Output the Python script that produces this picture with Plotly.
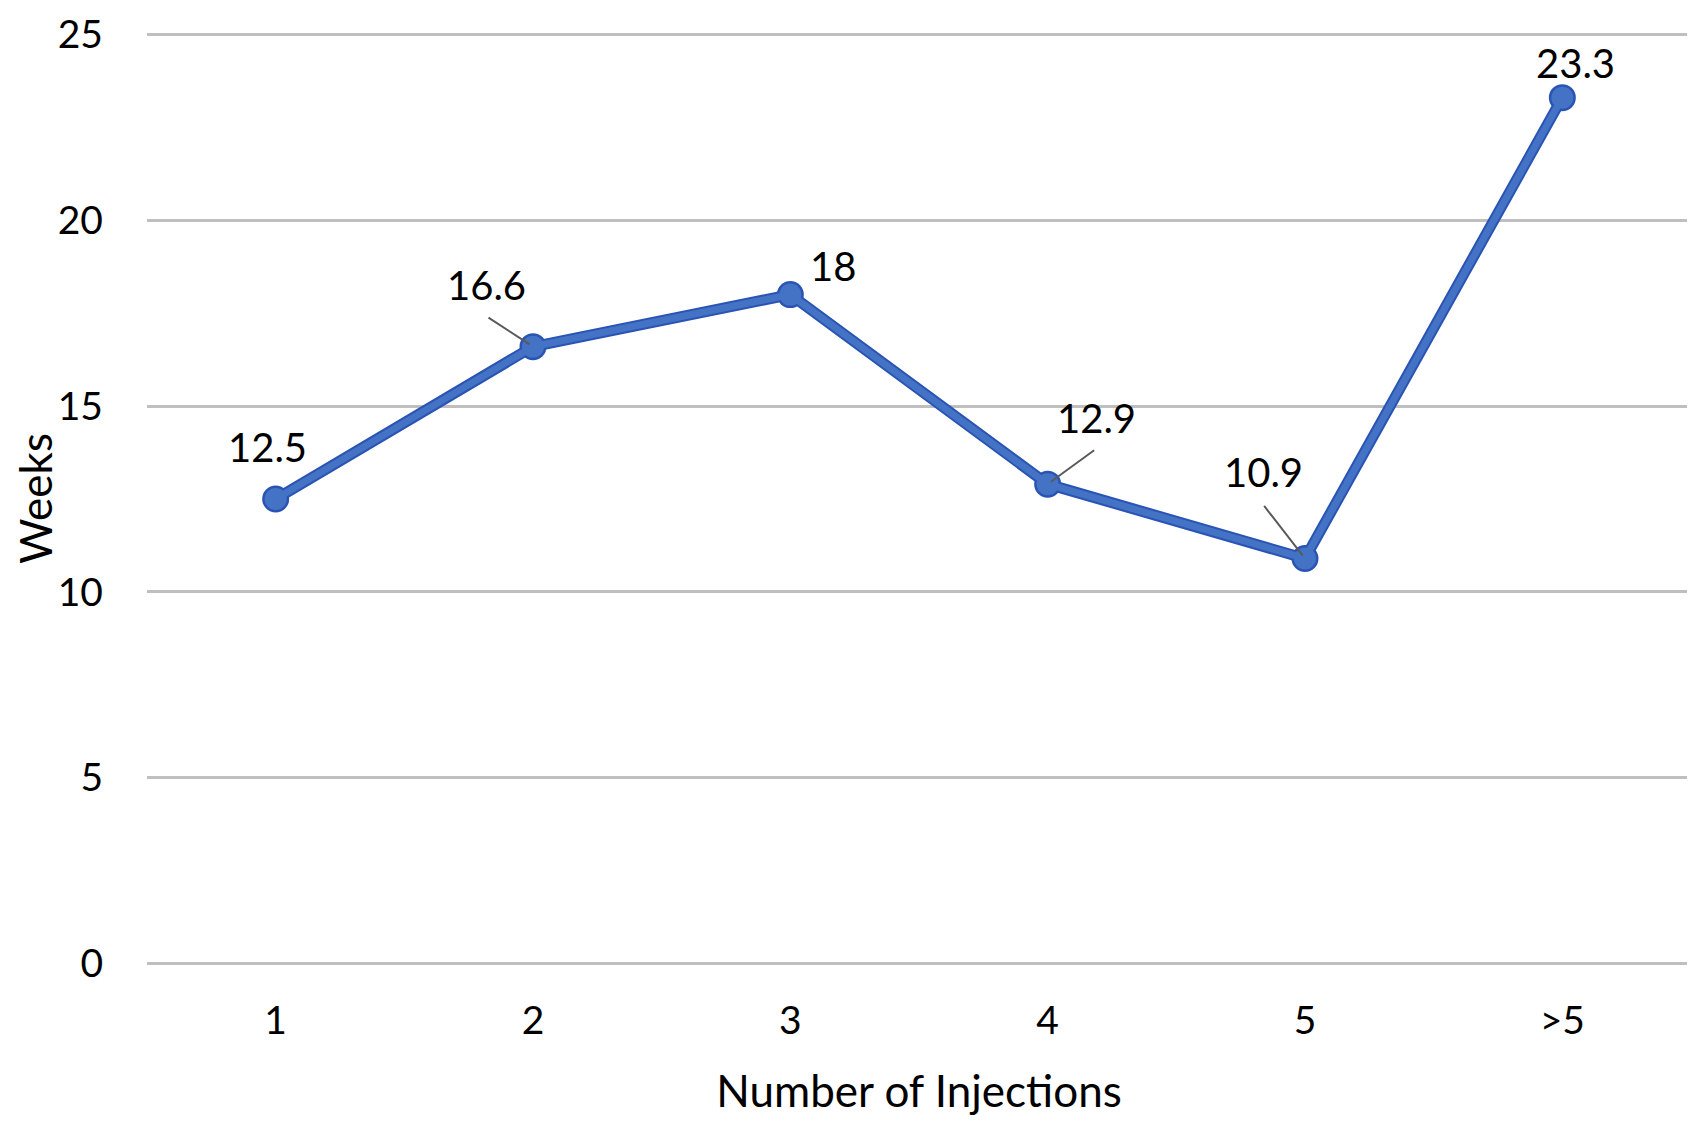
import plotly.graph_objs as go

# Data
injections = ['1', '2', '3', '4', '5', '>5']
weeks = [12.5, 16.6, 18, 12.9, 10.9, 23.3]
label_text = ['12.5', '16.6', '18', '12.9', '10.9', '23.3']
y_ticks = [0, 5, 10, 15, 20, 25]

# label offsets from the point (px)
label_dx = [-8, -47, 43, 49, -42, 13]
label_dy = [-52, -62, -29, -66, -86, -35]
# leader line tails (px), None when there is no leader
leader_dx = [None, -46, None, 48, -42, None]
leader_dy = [None, -30, None, -35, -54, None]

FONT = 'Lato, "Open Sans", sans-serif'

fig = go.Figure()

# dark outline under the line, then lighter line with markers on top
fig.add_trace(go.Scatter(x=injections, y=weeks, mode='lines+markers',
                         line=dict(color='#2A54B4', width=11),
                         marker=dict(size=27, color='#2A54B4'),
                         hoverinfo='skip', showlegend=False))
fig.add_trace(go.Scatter(x=injections, y=weeks, mode='lines+markers',
                         line=dict(color='#4472C4', width=7),
                         marker=dict(size=22, color='#4472C4'),
                         showlegend=False))

# annotations placed by category index
for i, (y, t, dx, dy) in enumerate(zip(weeks, label_text, label_dx, label_dy)):
    fig.add_annotation(x=i, y=y, text=t, showarrow=False,
                       xshift=dx, yshift=-dy,
                       font=dict(size=40, color='#000000', family=FONT))
    if leader_dx[i] is not None:
        fig.add_annotation(x=i, y=y, text='', showarrow=True, arrowhead=0,
                           arrowwidth=2, arrowcolor='#5A5A5A',
                           ax=leader_dx[i], ay=leader_dy[i], standoff=4)

# y axis title
fig.add_annotation(xref='paper', yref='paper', x=0, y=0.5, xshift=-112,
                   text='Weeks', textangle=-90, showarrow=False,
                   xanchor='center', yanchor='middle',
                   font=dict(size=44, color='#000000', family=FONT))

fig.update_layout(
    width=1695, height=1124,
    margin=dict(l=139, r=12, t=25, b=167),
    plot_bgcolor='#ffffff', paper_bgcolor='#ffffff',
    font=dict(family=FONT, size=39, color='#000000'),
    showlegend=False,
    xaxis=dict(type='category', range=[-0.5, 5.5], showgrid=False, zeroline=False,
               showline=False, ticks='', ticklabelstandoff=29, automargin=False,
               title=dict(text='Number of Injections', font=dict(size=44), standoff=35)),
    yaxis=dict(range=[-0.04, 25.04], tickvals=y_ticks, showgrid=True, gridcolor='#BFBFBF',
               gridwidth=2.5, zeroline=True, zerolinecolor='#BFBFBF', zerolinewidth=2.5,
               showline=False, ticks='', ticklabelstandoff=43, ticklabeloverflow='allow',
               automargin=False),
)

fig.write_html("out.html")
